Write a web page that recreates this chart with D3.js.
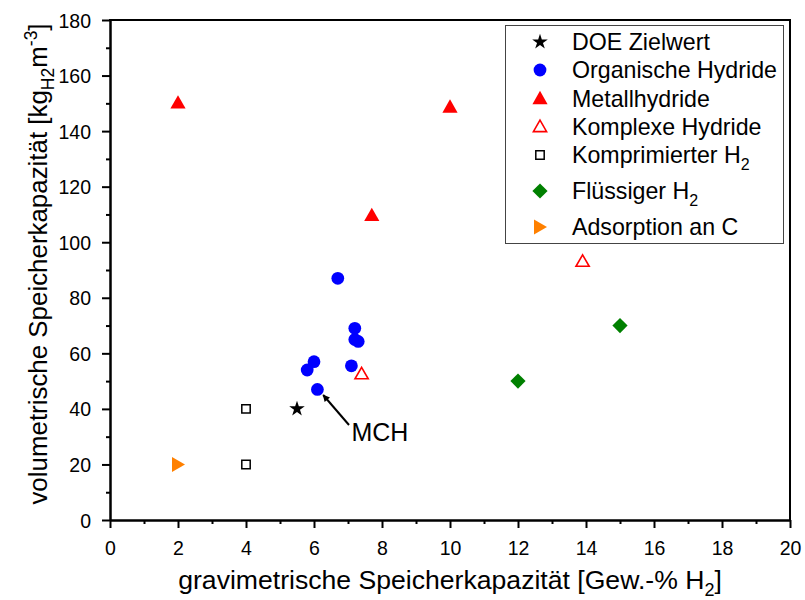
<!DOCTYPE html>
<html>
<head>
<meta charset="utf-8">
<script src="https://cdn.jsdelivr.net/npm/d3@7"></script>
<style>
  html, body { margin: 0; padding: 0; background: #fff; }
  svg { display: block; font-family: "Liberation Sans", Arial, sans-serif; }
</style>
</head>
<body>
<svg id="chart" width="805" height="600"></svg>
<script>
// Storage systems: gravimetric (wt.-% H2) vs volumetric (kg H2 / m^3) capacity
const doeX = [5.5];
const doeY = [40];
const organicX = [6.7, 7.2, 7.2, 7.3, 6.0, 5.8, 7.1, 6.1];
const organicY = [87, 69, 65, 64.3, 57, 54, 55.5, 47];
const metalX = [2, 10, 7.7];
const metalY = [150, 148.5, 109.5];
const complexX = [13.9, 7.4];
const complexY = [93, 52.5];
const compressedX = [4, 4];
const compressedY = [40, 20];
const liquidX = [12, 15];
const liquidY = [50, 70];
const adsorptionX = [2];
const adsorptionY = [20];

const xTicks = [0, 2, 4, 6, 8, 10, 12, 14, 16, 18, 20];
const yTicks = [0, 20, 40, 60, 80, 100, 120, 140, 160, 180];
const xMinor = [1, 3, 5, 7, 9, 11, 13, 15, 17, 19];
const yMinor = [10, 30, 50, 70, 90, 110, 130, 150, 170];

// Annotation for methylcyclohexane (MCH): arrow tail/tip and label anchor
const mchArrow = { x1: 7.03, y1: 34.2, x2: 6.27, y2: 45.0 };
const mchLabel = { x: 7.1, y: 28.3, text: "MCH" };

const margin = { left: 110, right: 15, top: 20, bottom: 80 };
const W = 805, H = 600;
const svg = d3.select("#chart");

const x = d3.scaleLinear().domain([0, 20]).range([margin.left, W - margin.right]);
const y = d3.scaleLinear().domain([0, 180]).range([H - margin.bottom, margin.top]);

// marker shapes (centred at 0,0)
const shapes = {
  star: d3.symbol().type(d3.symbolStar).size(75)(),
  circle: d3.symbol().type(d3.symbolCircle).size(128)(),
  triUp: "M0,-8.2 L7.6,5.2 L-7.6,5.2 Z",
  triUpOpen: "M0,-6.8 L6.6,4.6 L-6.6,4.6 Z",
  square: "M-4.2,-4.2 H4.2 V4.2 H-4.2 Z",
  diamond: "M0,-7.6 L7.6,0 L0,7.6 L-7.6,0 Z",
  triRight: "M-6,-7.5 L7,0 L-6,7.5 Z"
};

const series = [
  { name: "DOE Zielwert", xs: doeX, ys: doeY, shape: "star", fill: "#000", stroke: "none" },
  { name: "Organische Hydride", xs: organicX, ys: organicY, shape: "circle", fill: "#0000ff", stroke: "none" },
  { name: "Metallhydride", xs: metalX, ys: metalY, shape: "triUp", fill: "#ff0000", stroke: "none" },
  { name: "Komplexe Hydride", xs: complexX, ys: complexY, shape: "triUpOpen", fill: "none", stroke: "#ff0000", sw: 1.6 },
  { name: "Komprimierter H", sub: "2", xs: compressedX, ys: compressedY, shape: "square", fill: "none", stroke: "#000", sw: 1.5 },
  { name: "Flüssiger H", sub: "2", xs: liquidX, ys: liquidY, shape: "diamond", fill: "#008000", stroke: "none" },
  { name: "Adsorption an C", xs: adsorptionX, ys: adsorptionY, shape: "triRight", fill: "#ff8000", stroke: "none" }
];

// axes with outward major and minor ticks
const xAxis = svg.append("g").attr("transform", `translate(0,${y(0)})`)
  .call(d3.axisBottom(x).tickValues(xTicks).tickSize(8).tickSizeOuter(0).tickFormat(d3.format("d")));
const xMinorAxis = svg.append("g").attr("transform", `translate(0,${y(0)})`)
  .call(d3.axisBottom(x).tickValues(xMinor).tickSize(4).tickSizeOuter(0).tickFormat(""));
const yAxis = svg.append("g").attr("transform", `translate(${x(0)},0)`)
  .call(d3.axisLeft(y).tickValues(yTicks).tickSize(8).tickSizeOuter(0).tickFormat(d3.format("d")));
const yMinorAxis = svg.append("g").attr("transform", `translate(${x(0)},0)`)
  .call(d3.axisLeft(y).tickValues(yMinor).tickSize(4).tickSizeOuter(0).tickFormat(""));

[xAxis, xMinorAxis, yAxis, yMinorAxis].forEach(g => {
  g.selectAll("path.domain").attr("stroke", "#000").attr("stroke-width", 2);
  g.selectAll(".tick line").attr("stroke", "#000").attr("stroke-width", 2);
  g.selectAll(".tick text").attr("fill", "#000")
    .style("font-family", "'Liberation Sans', Arial, sans-serif").style("font-size", "19.5px");
});
xAxis.selectAll(".tick text").attr("y", 0).attr("dy", "35px");
yAxis.selectAll(".tick text").attr("x", -19).attr("dy", "0.36em");

// top and right frame lines
svg.append("line").attr("x1", x(0) - 1).attr("x2", x(20) + 1).attr("y1", y(180)).attr("y2", y(180))
  .attr("stroke", "#000").attr("stroke-width", 2);
svg.append("line").attr("x1", x(20)).attr("x2", x(20)).attr("y1", y(180)).attr("y2", y(0))
  .attr("stroke", "#000").attr("stroke-width", 2);

// data markers
series.forEach(s => {
  svg.append("g").selectAll("path")
    .data(s.xs.map((v, i) => [v, s.ys[i]]))
    .join("path")
    .attr("d", shapes[s.shape])
    .attr("transform", d => `translate(${x(d[0])},${y(d[1])})`)
    .attr("fill", s.fill)
    .attr("stroke", s.stroke)
    .attr("stroke-width", s.sw || 0);
});

// MCH annotation arrow
const defs = svg.append("defs");
defs.append("marker").attr("id", "arrowhead")
  .attr("viewBox", "0 0 10 10").attr("refX", 9).attr("refY", 5)
  .attr("markerWidth", 10).attr("markerHeight", 7).attr("markerUnits", "userSpaceOnUse")
  .attr("orient", "auto")
  .append("path").attr("d", "M0,0 L10,5 L0,10 Z").attr("fill", "#000");
const ax1 = x(mchArrow.x1), ay1 = y(mchArrow.y1), ax2 = x(mchArrow.x2), ay2 = y(mchArrow.y2);
svg.append("line").attr("x1", ax1).attr("y1", ay1).attr("x2", ax2).attr("y2", ay2)
  .attr("stroke", "#000").attr("stroke-width", 2).attr("marker-end", "url(#arrowhead)");
svg.append("text").attr("x", x(mchLabel.x)).attr("y", y(mchLabel.y))
  .attr("font-size", "25px").attr("fill", "#000").text(mchLabel.text);

// legend
const lg = svg.append("g");
lg.append("rect").attr("x", 505.5).attr("y", 25.5).attr("width", 278).attr("height", 218)
  .attr("fill", "#fff").attr("stroke", "#444").attr("stroke-width", 1);
const rowY = [42, 70, 99, 127, 155, 191, 227];
series.forEach((s, i) => {
  lg.append("path").attr("d", shapes[s.shape])
    .attr("transform", `translate(540,${rowY[i]})`)
    .attr("fill", s.fill).attr("stroke", s.stroke).attr("stroke-width", s.sw || 0);
  const t = lg.append("text").attr("x", 572).attr("y", rowY[i]).attr("dy", "0.36em")
    .attr("font-size", "23.2px").attr("fill", "#000");
  t.append("tspan").text(s.name);
  if (s.sub) t.append("tspan").attr("dy", "7").attr("font-size", "16px").text(s.sub);
});

// axis titles
const xt = svg.append("text").attr("x", 450).attr("y", 589).attr("text-anchor", "middle")
  .attr("font-size", "26.6px").attr("fill", "#000");
xt.append("tspan").text("gravimetrische Speicherkapazität [Gew.-% H");
xt.append("tspan").attr("dy", "7").attr("font-size", "18px").text("2");
xt.append("tspan").attr("dy", "-7").text("]");

const yt = svg.append("text").attr("transform", "translate(47,264) rotate(-90)")
  .attr("text-anchor", "middle").attr("font-size", "25.9px").attr("fill", "#000");
yt.append("tspan").text("volumetrische Speicherkapazität [kg");
yt.append("tspan").attr("dy", "7").attr("font-size", "17.5px").text("H2");
yt.append("tspan").attr("dy", "-7").text("m");
yt.append("tspan").attr("dy", "-10").attr("font-size", "17.5px").text("-3");
yt.append("tspan").attr("dy", "10").text("]");
</script>
</body>
</html>
